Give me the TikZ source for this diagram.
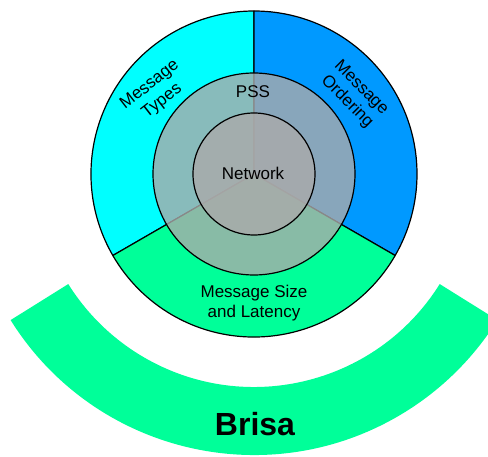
\documentclass[tikz,border=0pt]{standalone}
\usepackage{fontspec}
\setmainfont{Liberation Sans}
\definecolor{typescyan}{RGB}{0,255,255}
\definecolor{orderblue}{RGB}{0,153,255}
\definecolor{sizegreen}{RGB}{0,255,153}
\definecolor{layergrey}{RGB}{170,170,170}
\begin{document}
\begin{tikzpicture}[x=1pt,y=-1pt,
  sector/.style={draw=black,line width=1.2pt,line join=round},
  layer/.style={circle,draw=black,line width=1.2pt,fill=layergrey,fill opacity=0.8,inner sep=0pt},
  lbl/.style={font=\fontsize{17}{20}\selectfont,align=center,text=black,inner sep=0pt},
  title/.style={font=\bfseries\fontsize{32}{38}\selectfont,text=black,inner sep=0pt}]
\useasboundingbox (0,0) rectangle (488,457);
\clip (0,0) rectangle (488,457);
\coordinate (c) at (254,174);
\coordinate (bc) at (254,168);
% Brisa band underneath the rings
\fill[sizegreen] ([shift={(32:219)}]bc) arc[start angle=32,end angle=148,radius=219]
  -- ([shift={(148:287)}]bc) arc[start angle=148,end angle=32,radius=287] -- cycle;
% three outer sectors
\filldraw[sector,fill=typescyan] (c) -- ++(150:163) arc[start angle=150,end angle=270,radius=163] -- cycle;
\filldraw[sector,fill=orderblue] (c) -- ++(270:163) arc[start angle=270,end angle=390,radius=163] -- cycle;
\filldraw[sector,fill=sizegreen] (c) -- ++(30:163) arc[start angle=30,end angle=150,radius=163] -- cycle;
% translucent inner layers
\node[layer,minimum size=202pt] (pss) at (c) {};
\node[layer,minimum size=122pt] (net) at (c) {};
% labels
\node[lbl] (pssl) at (253,92) {PSS};
\node[lbl] (netl) at (253,173) {Network};
\node[lbl] (sizel) at (254,303) {Message Size\\and Latency};
\node[lbl,rotate=38] (typesl) at (156,93) {Message\\Types};
\node[lbl,rotate=-45] (orderl) at (354,95) {Message\\Ordering};
\node[title] (brisal) at (255,424) {Brisa};
\end{tikzpicture}
\end{document}
